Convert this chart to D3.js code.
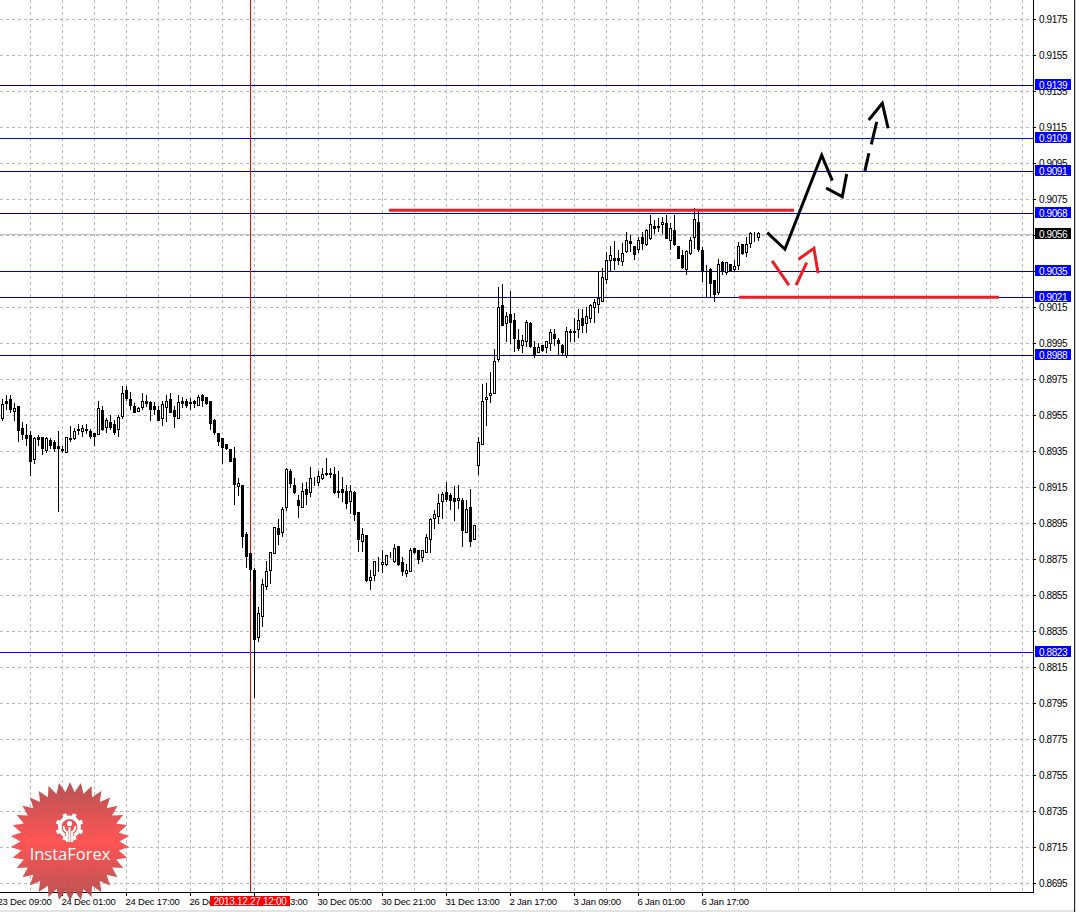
<!DOCTYPE html>
<html><head><meta charset="utf-8">
<script src="https://cdn.jsdelivr.net/npm/d3@7"></script>
<style>html,body{margin:0;padding:0;background:#fff}svg{display:block}text{font-family:"Liberation Sans",Arial,sans-serif}</style>
</head><body><div id="chart"></div>
<script>
const opens=[0.89535,0.89628,0.89639,0.89574,0.89600,0.89476,0.89439,0.89439,0.89307,0.89428,0.89428,0.89356,0.89411,0.89400,0.89378,0.89359,0.89346,0.89418,0.89422,0.89467,0.89459,0.89467,0.89461,0.89448,0.89446,0.89578,0.89483,0.89511,0.89498,0.89470,0.89546,0.89689,0.89639,0.89600,0.89574,0.89596,0.89626,0.89622,0.89600,0.89578,0.89535,0.89596,0.89639,0.89578,0.89535,0.89626,0.89628,0.89622,0.89626,0.89606,0.89661,0.89650,0.89628,0.89522,0.89450,0.89422,0.89389,0.89361,0.89311,0.89156,0.89161,0.88889,0.88783,0.88689,0.88317,
0.88433,0.88600,0.88689,0.88781,0.88922,0.88900,0.89037,0.89241,0.89163,0.89078,0.89039,0.89139,0.89122,0.89187,0.89176,0.89200,0.89230,0.89228,0.89222,0.89128,0.89139,0.89128,0.89072,0.89124,0.89011,0.88850,0.88885,0.88631,0.88661,0.88731,0.88722,0.88722,0.88763,0.88737,0.88822,0.88733,0.88670,0.88681,0.88811,0.88800,0.88759,0.88787,0.88859,0.88978,0.88987,0.89072,0.89122,0.89106,0.89089,0.89078,0.89078,0.88900,0.89039,0.88861,
0.89270,0.89388,0.89638,0.89661,0.89674,0.89859,0.90161,0.90059,0.90111,0.90077,0.89966,0.89937,0.89961,0.90061,0.89927,0.89900,0.89938,0.89927,0.89950,0.90000,0.89966,0.89938,0.89883,0.90016,0.90016,0.90027,0.90088,0.90061,0.90088,0.90150,0.90166,
0.90185,0.90307,0.90412,0.90425,0.90425,0.90407,0.90459,0.90514,0.90487,0.90474,0.90537,0.90498,0.90531,0.90598,0.90598,0.90609,0.90614,0.90525,0.90575,0.90487,0.90437,0.90361,0.90448,0.90537,0.90625,0.90464,0.90368,0.90359,0.90300,0.90231,0.90398,0.90344,0.90387,0.90362,0.90385,0.90498,0.90455,0.90507,0.90548,0.90537];
const highs=[0.89637,0.89661,0.89661,0.89615,0.89600,0.89511,0.89500,0.89461,0.89430,0.89437,0.89428,0.89426,0.89420,0.89411,0.89461,0.89378,0.89426,0.89489,0.89476,0.89498,0.89494,0.89500,0.89470,0.89448,0.89626,0.89600,0.89533,0.89548,0.89520,0.89550,0.89711,0.89711,0.89678,0.89615,0.89594,0.89672,0.89661,0.89628,0.89622,0.89600,0.89626,0.89661,0.89672,0.89600,0.89661,0.89650,0.89639,0.89644,0.89633,0.89661,0.89667,0.89650,0.89628,0.89528,0.89450,0.89422,0.89389,0.89361,0.89372,0.89198,0.89161,0.88898,0.88783,0.88700,0.88483,
0.88639,0.88741,0.88789,0.88928,0.88972,0.89039,0.89254,0.89250,0.89200,0.89107,0.89172,0.89178,0.89261,0.89204,0.89237,0.89256,0.89311,0.89256,0.89261,0.89239,0.89206,0.89161,0.89161,0.89130,0.89011,0.88922,0.88885,0.88689,0.88739,0.88761,0.88800,0.88772,0.88789,0.88833,0.88822,0.88761,0.88722,0.88811,0.88811,0.88800,0.88800,0.88889,0.88978,0.89022,0.89111,0.89122,0.89178,0.89117,0.89156,0.89161,0.89089,0.89078,0.89139,0.88939,
0.89427,0.89724,0.89727,0.89790,0.89918,0.90261,0.90279,0.90125,0.90238,0.90116,0.90027,0.89996,0.90077,0.90066,0.89963,0.89950,0.89938,0.89961,0.90027,0.90027,0.89977,0.89944,0.90038,0.90027,0.90088,0.90138,0.90138,0.90150,0.90166,0.90194,0.90350,
0.90364,0.90453,0.90488,0.90514,0.90466,0.90507,0.90564,0.90550,0.90490,0.90537,0.90564,0.90585,0.90661,0.90633,0.90646,0.90651,0.90661,0.90614,0.90661,0.90487,0.90466,0.90466,0.90537,0.90698,0.90688,0.90483,0.90381,0.90364,0.90300,0.90414,0.90403,0.90401,0.90387,0.90411,0.90509,0.90500,0.90537,0.90564,0.90564,0.90564];
const lows=[0.89522,0.89581,0.89568,0.89522,0.89406,0.89417,0.89383,0.89217,0.89283,0.89381,0.89335,0.89344,0.89367,0.89352,0.89017,0.89344,0.89346,0.89407,0.89417,0.89444,0.89433,0.89450,0.89422,0.89383,0.89446,0.89468,0.89456,0.89470,0.89444,0.89433,0.89533,0.89633,0.89583,0.89567,0.89574,0.89583,0.89600,0.89522,0.89556,0.89522,0.89494,0.89517,0.89567,0.89483,0.89535,0.89594,0.89594,0.89583,0.89594,0.89606,0.89600,0.89611,0.89472,0.89444,0.89383,0.89283,0.89359,0.89294,0.89055,0.89106,0.88817,0.88705,0.88633,0.87983,0.88294,
0.88380,0.88585,0.88617,0.88781,0.88831,0.88880,0.89022,0.89148,0.89117,0.88985,0.89037,0.89057,0.89098,0.89161,0.89159,0.89194,0.89219,0.89206,0.89117,0.89094,0.89070,0.89035,0.89006,0.88969,0.88796,0.88796,0.88630,0.88585,0.88635,0.88683,0.88678,0.88718,0.88759,0.88731,0.88718,0.88659,0.88654,0.88681,0.88783,0.88728,0.88741,0.88787,0.88787,0.88922,0.88948,0.88978,0.89072,0.89028,0.88969,0.89033,0.88820,0.88898,0.88820,0.88861,
0.89220,0.89388,0.89496,0.89625,0.89670,0.89848,0.90050,0.89963,0.89948,0.89907,0.89913,0.89898,0.89931,0.89927,0.89870,0.89898,0.89907,0.89898,0.89913,0.89938,0.89883,0.89883,0.89872,0.89961,0.89959,0.89983,0.90009,0.90009,0.90064,0.90064,0.90125,
0.90185,0.90281,0.90355,0.90359,0.90388,0.90381,0.90457,0.90462,0.90414,0.90457,0.90474,0.90494,0.90527,0.90559,0.90572,0.90559,0.90531,0.90472,0.90494,0.90420,0.90364,0.90333,0.90442,0.90475,0.90462,0.90292,0.90203,0.90203,0.90185,0.90225,0.90333,0.90333,0.90348,0.90348,0.90361,0.90444,0.90435,0.90481,0.90518,0.90524];
const closes=[0.89609,0.89617,0.89583,0.89589,0.89467,0.89444,0.89422,0.89296,0.89422,0.89418,0.89367,0.89422,0.89381,0.89367,0.89367,0.89354,0.89426,0.89422,0.89459,0.89470,0.89476,0.89470,0.89433,0.89433,0.89589,0.89472,0.89520,0.89483,0.89456,0.89537,0.89672,0.89644,0.89607,0.89568,0.89589,0.89626,0.89617,0.89583,0.89583,0.89522,0.89611,0.89626,0.89567,0.89544,0.89622,0.89617,0.89607,0.89617,0.89617,0.89648,0.89633,0.89617,0.89506,0.89456,0.89406,0.89372,0.89367,0.89294,0.89167,0.89172,0.88878,0.88767,0.88694,0.88305,0.88450,
0.88611,0.88683,0.88789,0.88928,0.88889,0.89028,0.89250,0.89170,0.89122,0.89048,0.89128,0.89111,0.89200,0.89191,0.89211,0.89222,0.89220,0.89224,0.89120,0.89124,0.89120,0.89061,0.89128,0.88998,0.88859,0.88889,0.88635,0.88650,0.88739,0.88735,0.88733,0.88772,0.88759,0.88811,0.88722,0.88681,0.88689,0.88800,0.88789,0.88750,0.88800,0.88872,0.88972,0.89000,0.89061,0.89111,0.89085,0.89080,0.89070,0.89089,0.88911,0.89028,0.88850,0.88939,
0.89400,0.89627,0.89650,0.89672,0.89850,0.90150,0.90050,0.90100,0.90066,0.89975,0.89925,0.89966,0.90066,0.89935,0.89883,0.89927,0.89913,0.89961,0.90011,0.89975,0.89950,0.89900,0.90016,0.90011,0.90011,0.90077,0.90050,0.90100,0.90161,0.90177,0.90200,
0.90314,0.90409,0.90437,0.90412,0.90412,0.90448,0.90525,0.90507,0.90442,0.90525,0.90505,0.90575,0.90609,0.90587,0.90596,0.90625,0.90535,0.90587,0.90498,0.90420,0.90370,0.90459,0.90525,0.90637,0.90470,0.90357,0.90364,0.90281,0.90222,0.90387,0.90357,0.90398,0.90351,0.90375,0.90487,0.90448,0.90498,0.90559,0.90550,0.90559];
const priceTicks=["0.9175","0.9155","0.9135","0.9115","0.9095","0.9075","0.9055","0.9035","0.9015","0.8995","0.8975","0.8955","0.8935","0.8915","0.8895","0.8875","0.8855","0.8835","0.8815","0.8795","0.8775","0.8755","0.8735","0.8715","0.8695"];
const levelValues=[0.91386,0.9109,0.90906,0.90675,0.9035,0.90208,0.89884,0.88234];
const levelLabels=["0.9139","0.9109","0.9091","0.9068","0.9035","0.9021","0.8988","0.8823"];
const levelColors=["#0000b0","#0000ff","#0000b0","#0000b0","#0000b0","#0000b0","#0000b0","#0000ff"];
const lastPrice=0.90556, lastLabel="0.9056";
const timeIndex=[-1,15,31,47,63,79,95,111,127,143,159,175];
const timeLabels=["23 Dec 09:00","24 Dec 01:00","24 Dec 17:00","26 Dec 21:00","27 Dec 13:00","30 Dec 05:00","30 Dec 21:00","31 Dec 13:00","2 Jan 17:00","3 Jan 09:00","6 Jan 01:00","6 Jan 17:00"];
const cursorIndex=62, cursorLabel="2013.12.27 12:00";
const redLevels=[[96.6,197.9,0.90687],[184.1,249.1,0.90204]];
const blackPaths=[[[191.2,0.90563],[195.6,0.90471],[204.8,0.90993],[207.45,0.90852]],[[205.9,0.90811],[209.95,0.90763],[211.05,0.90889]],[[215.6,0.90906],[216.6,0.91004]],[[217.2,0.91054],[218.55,0.91178]],[[216.55,0.91189],[219.95,0.91282],[221.4,0.91143]]];
const redPaths=[[[192.4,0.90406],[196.6,0.90271]],[[198.4,0.90272],[201.05,0.90396]],[[199,0.90415],[202.85,0.90476],[203.9,0.90337]]];

const W=1084,H=912,plotR=1033,plotB=892;
const x=d3.scaleLinear().domain([0,257]).range([2.5,1030.5]);
const y=d3.scaleLinear().domain([0.9175,0.8695]).range([19,883]);
const row=v=>Math.round(y(v))+0.5;
const svg=d3.select("#chart").append("svg").attr("width",W).attr("height",H);
svg.append("rect").attr("width",W).attr("height",H).attr("fill","#fff");
const defs=svg.append("defs");
defs.append("clipPath").attr("id","plot").append("rect").attr("width",plotR).attr("height",plotB);
const g=svg.append("g").attr("clip-path","url(#plot)");

// grid
const gridCol=d3.range(7,258,8);
g.selectAll(".gv").data(gridCol).join("line").attr("x1",d=>x(d)).attr("x2",d=>x(d)).attr("y1",0).attr("y2",plotB)
 .attr("stroke","#b8b8b8").attr("stroke-dasharray","3,3");
g.selectAll(".gh").data(priceTicks).join("line").attr("x1",0).attr("x2",plotR).attr("y1",d=>row(+d)).attr("y2",d=>row(+d))
 .attr("stroke","#b8b8b8").attr("stroke-dasharray","3,3");
// levels
g.append("line").attr("x1",0).attr("x2",plotR).attr("y1",row(lastPrice)).attr("y2",row(lastPrice)).attr("stroke","#c0c0c0");
g.selectAll(".lv").data(levelValues).join("line").attr("x1",0).attr("x2",plotR).attr("y1",d=>row(d)).attr("y2",d=>row(d))
 .attr("stroke",(d,i)=>levelColors[i]);
g.append("line").attr("x1",x(cursorIndex)).attr("x2",x(cursorIndex)).attr("y1",0).attr("y2",plotB).attr("stroke","#ff0000");
// candles
const idx=d3.range(opens.length);
g.selectAll(".wick").data(idx).join("line").attr("x1",d=>x(d)).attr("x2",d=>x(d))
 .attr("y1",d=>Math.round(y(highs[d]))).attr("y2",d=>Math.round(y(lows[d]))+1).attr("stroke","#000");
g.selectAll(".body").data(idx).join("rect")
 .attr("x",d=>x(d)-1).attr("width",2)
 .attr("y",d=>row(Math.max(opens[d],closes[d])))
 .attr("height",d=>Math.max(0,Math.round(y(Math.min(opens[d],closes[d])))-Math.round(y(Math.max(opens[d],closes[d])))))
 .attr("fill",d=>closes[d]>=opens[d]?"#fff":"#000").attr("stroke","#000").attr("shape-rendering","crispEdges");
// annotations
const line=d3.line().x(d=>x(d[0])).y(d=>y(d[1]));
g.selectAll(".black").data(blackPaths).join("path").attr("d",line).attr("fill","none").attr("stroke","#000").attr("stroke-width",3);
g.selectAll(".redp").data(redPaths).join("path").attr("d",line).attr("fill","none").attr("stroke","#ee1c25").attr("stroke-width",3);
g.selectAll(".redl").data(redLevels).join("line").attr("x1",d=>x(d[0])).attr("x2",d=>x(d[1])).attr("y1",d=>y(d[2])).attr("y2",d=>y(d[2]))
 .attr("stroke","#e8202a").attr("stroke-width",3);

// frame
svg.append("line").attr("x1",plotR+.5).attr("x2",plotR+.5).attr("y1",0).attr("y2",plotB+1).attr("stroke","#000");
svg.append("line").attr("x1",0).attr("x2",plotR+1).attr("y1",plotB+.5).attr("y2",plotB+.5).attr("stroke","#000");
svg.append("rect").attr("x",0).attr("y",910).attr("width",1074).attr("height",2).attr("fill","#e3e3e3");
svg.append("rect").attr("x",1074).attr("y",0).attr("width",1).attr("height",912).attr("fill","#222");
svg.append("rect").attr("x",1075).attr("y",0).attr("width",1).attr("height",912).attr("fill","#d8d8d8");

// price axis
svg.selectAll(".pt").data(priceTicks).join("line").attr("x1",plotR+1).attr("x2",plotR+3).attr("y1",d=>row(+d)).attr("y2",d=>row(+d)).attr("stroke","#000");
svg.selectAll(".pl").data(priceTicks).join("text").attr("x",1039).attr("y",d=>row(+d)+3.5).attr("font-size",10).attr("letter-spacing",-0.4).attr("fill","#000").text(d=>d);
// time axis
svg.selectAll(".tt").data(timeIndex).join("line").attr("x1",d=>x(d)).attr("x2",d=>x(d)).attr("y1",plotB+1).attr("y2",plotB+4).attr("stroke","#000");
svg.selectAll(".tl").data(timeIndex).join("text").attr("x",d=>x(d)-1).attr("y",905).attr("font-size",9.5).attr("letter-spacing",-0.2).attr("fill","#000").text((d,i)=>timeLabels[i]);
// level tags
const tag=(v,label,color)=>{const yy=Math.round(y(v));
 svg.append("rect").attr("x",1035).attr("y",yy-6).attr("width",36).attr("height",11).attr("fill",color);
 svg.append("text").attr("x",1039).attr("y",yy+3.5).attr("font-size",10).attr("letter-spacing",-0.4).attr("fill","#fff").text(label);};
levelValues.forEach((v,i)=>tag(v,levelLabels[i],"#0000ff"));
tag(lastPrice,lastLabel,"#000");
svg.append("rect").attr("x",210).attr("y",896).attr("width",80).attr("height",10).attr("fill","#ff0000");
svg.append("text").attr("x",250).attr("y",905).attr("text-anchor","middle").attr("font-size",10).attr("letter-spacing",-0.3).attr("fill","#fff").text(cursorLabel);

// logo
const grad=defs.append("linearGradient").attr("id","lg").attr("x1",0).attr("x2",0).attr("y1",0).attr("y2",1);
[[0,"#b04545"],[.5,"#ff4646"],[1,"#b04545"]].forEach(s=>grad.append("stop").attr("offset",s[0]).attr("stop-color",s[1]));
const spikes=34,cx=70,cy=841.5;
const star=d3.range(spikes*2).map(i=>{const r=i%2?49.5:59.5,a=i*Math.PI/spikes-Math.PI/2;return [cx+r*Math.cos(a),cy+r*Math.sin(a)];});
const logo=svg.append("g");
logo.append("path").attr("d","M"+star.join("L")+"Z").attr("fill","url(#lg)").attr("fill-opacity",.92);
const gx=69.5,gy=827;
logo.append("path").attr("transform",`translate(${gx},${gy})`)
 .attr("d",d3.arc().innerRadius(8).outerRadius(11.5).startAngle(-Math.PI+0.5).endAngle(Math.PI-0.5)()).attr("fill","#fff");
d3.range(8).forEach(k=>{const deg=-157.5+k*45;
 logo.append("rect").attr("transform",`translate(${gx},${gy}) rotate(${deg})`).attr("x",-2).attr("y",-14).attr("width",4).attr("height",4).attr("fill","#fff");});
logo.append("circle").attr("cx",gx).attr("cy",gy-3.5).attr("r",2.6).attr("fill","#fff");
logo.append("path").attr("d",`M${gx} ${gy}V${gy+15}M${gx-6} ${gy-1}Q${gx-5.5} ${gy+4} ${gx-2.5} ${gy+5}V${gy+15}M${gx+6} ${gy-1}Q${gx+5.5} ${gy+4} ${gx+2.5} ${gy+5}V${gy+15}`)
 .attr("fill","none").attr("stroke","#fff").attr("stroke-width",2);
logo.append("text").attr("x",cx).attr("y",860).attr("text-anchor","middle").attr("font-size",16.5).attr("fill","#fff").attr("style","font-family:'Open Sans',sans-serif;font-weight:400").text("InstaForex");
</script></body></html>
